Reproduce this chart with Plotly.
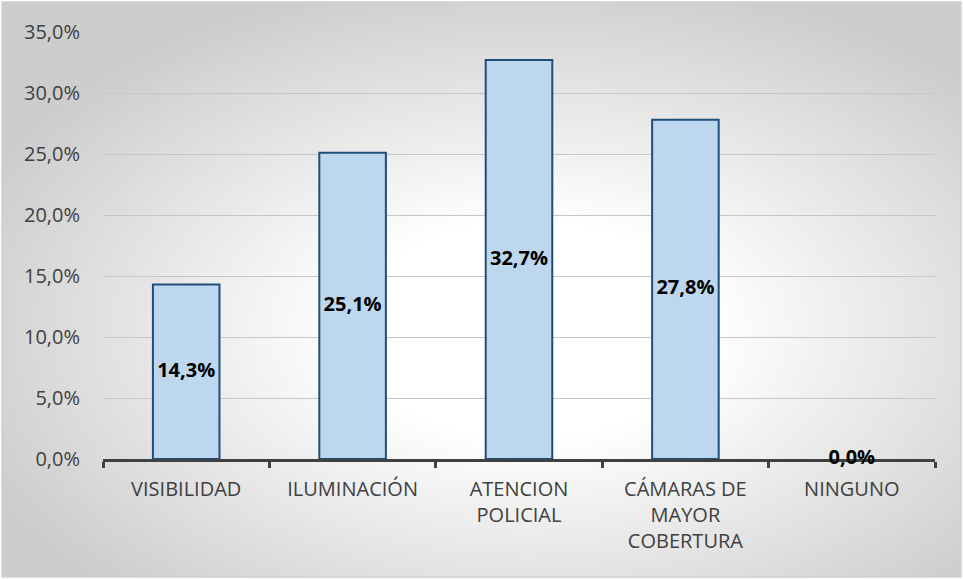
import base64
import plotly.graph_objects as go

categories = ["VISIBILIDAD", "ILUMINACIÓN", "ATENCION<br>POLICIAL",
              "CÁMARAS DE<br>MAYOR<br>COBERTURA", "NINGUNO"]
values = [14.3, 25.1, 32.7, 27.8, 0.0]
y_ticks = [0, 5, 10, 15, 20, 25, 30, 35]

W, H = 963, 579
M = dict(l=103, r=28, t=32, b=120)
FONT = "Open Sans, sans-serif"


def pct(v):
    return f"{v:.1f}%".replace(".", ",")


labels = [pct(v) for v in values]
mid = [v / 2 for v in values]

# radial "Excel" backdrop as an svg
svg = f"""<svg xmlns='http://www.w3.org/2000/svg' width='{W}' height='{H}' viewBox='0 0 {W} {H}' preserveAspectRatio='none'>
<defs><radialGradient id='g' cx='55%' cy='57%' r='62%'>
<stop offset='0' stop-color='#ffffff'/><stop offset='0.3' stop-color='#ffffff'/>
<stop offset='1' stop-color='#cdcdcd'/></radialGradient></defs>
<rect x='0' y='0' width='{W}' height='{H}' fill='#ffffff'/>
<rect x='2' y='2' width='{W-4}' height='{H-4}' fill='url(#g)' stroke='#d0d0d0' stroke-width='1.5'/>
</svg>"""
bg = "data:image/svg+xml;base64," + base64.b64encode(svg.encode()).decode()

pw = W - M["l"] - M["r"]
ph = H - M["t"] - M["b"]

fig = go.Figure()
fig.add_trace(go.Bar(
    x=categories, y=values, width=0.4,
    marker=dict(color="#BDD7EE",
                line=dict(color="#1F4E79", width=[2 if v > 0 else 0 for v in values])),
    hoverinfo="skip",
))
fig.add_trace(go.Scatter(
    x=categories, y=mid, mode="text", text=labels,
    textfont=dict(family=FONT, size=20, color="#000000", weight="bold"),
    hoverinfo="skip", cliponaxis=False,
))

fig.update_layout(
    width=W, height=H,
    margin=M,
    showlegend=False,
    paper_bgcolor="rgba(0,0,0,0)",
    plot_bgcolor="rgba(0,0,0,0)",
    font=dict(family=FONT, size=20, color="#404040"),
    images=[dict(source=bg, xref="paper", yref="paper",
                 x=-M["l"] / pw, y=1 + M["t"] / ph,
                 sizex=W / pw, sizey=H / ph,
                 sizing="stretch", layer="below", xanchor="left", yanchor="top")],
)
fig.update_yaxes(
    range=[0, 35], tickvals=y_ticks, ticktext=[pct(t) for t in y_ticks],
    showgrid=True, gridcolor="#c6c6c6", gridwidth=1,
    zeroline=False, showline=False, ticks="", ticklabelstandoff=22,
    tickfont=dict(family=FONT, size=20, color="#404040"),
)
fig.update_xaxes(
    showline=True, linecolor="#404040", linewidth=3, layer="below traces",
    ticks="outside", tickson="boundaries", ticklen=6, tickwidth=3, tickcolor="#404040",
    showgrid=False, tickfont=dict(family=FONT, size=20, color="#404040"),
    ticklabelstandoff=10,
)

fig.write_html("out.html", config={"displayModeBar": False},
               post_script="document.body.style.margin='0';")
